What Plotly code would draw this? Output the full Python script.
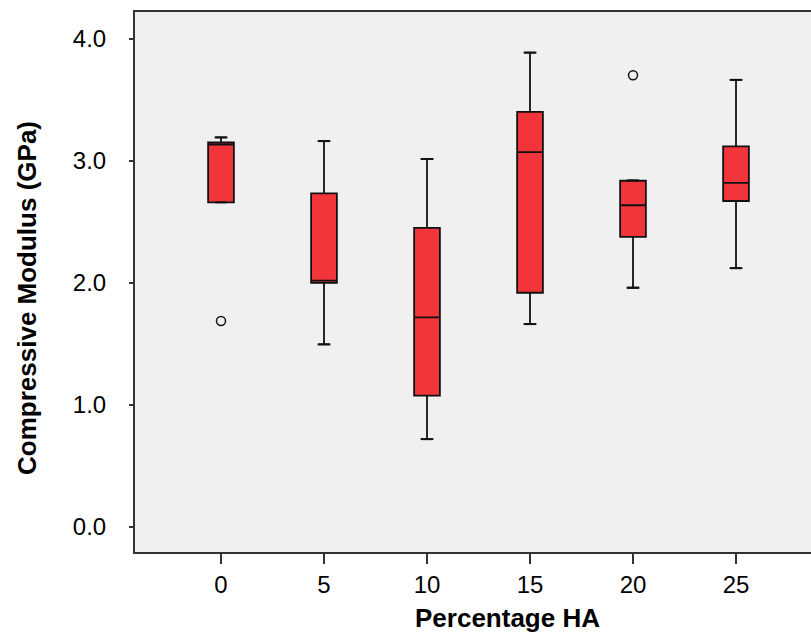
import plotly.graph_objects as go

categories = ["0", "5", "10", "15", "20", "25"]
q1 = [2.661, 2.001, 1.077, 1.920, 2.378, 2.672]
median = [3.135, 2.020, 1.718, 3.073, 2.637, 2.820]
q3 = [3.152, 2.735, 2.452, 3.403, 2.838, 3.119]
lower_whisker = [2.661, 1.497, 0.720, 1.663, 1.961, 2.121]
upper_whisker = [3.193, 3.163, 3.016, 3.888, 2.840, 3.665]
outlier_x = ["0", "20"]
outlier_y = [1.688, 3.703]
y_ticks = [0, 1, 2, 3, 4]
y_tick_labels = ["0.0", "1.0", "2.0", "3.0", "4.0"]
x_title = "Percentage HA"
y_title = "Compressive Modulus (GPa)"

FILL = "#F2353B"
LINE = "#111111"
FONT = "Liberation Sans, Arial, sans-serif"

fig = go.Figure()
fig.add_trace(go.Box(
    x=categories, q1=q1, median=median, q3=q3,
    lowerfence=lower_whisker, upperfence=upper_whisker,
    width=0.25, fillcolor=FILL, line=dict(color=LINE, width=1.8),
    boxpoints=False, showlegend=False, hoverinfo="skip",
))
# whisker caps
fig.add_trace(go.Scatter(
    x=categories + categories, y=lower_whisker + upper_whisker,
    mode="markers",
    marker=dict(symbol="line-ew", size=8, line=dict(color=LINE, width=2)),
    showlegend=False, hoverinfo="skip",
))
# outliers
fig.add_trace(go.Scatter(
    x=outlier_x, y=outlier_y, mode="markers",
    marker=dict(symbol="circle-open", size=9, color=LINE, line=dict(color=LINE, width=1.5)),
    showlegend=False, hoverinfo="skip",
))

fig.update_layout(
    width=811, height=633,
    margin=dict(l=135, r=0, t=12, b=81),
    paper_bgcolor="white", plot_bgcolor="#F0F0F0",
    font=dict(family=FONT, size=24, color="black"),
    annotations=[
        dict(text="<b>" + x_title + "</b>", xref="paper", yref="paper",
             x=0.5503, y=-0.1231, xanchor="center", yanchor="middle",
             showarrow=False, font=dict(size=26, color="black")),
        dict(text="<b>" + y_title + "</b>", xref="paper", yref="paper",
             x=-0.1598, y=0.4704, xanchor="center", yanchor="middle",
             textangle=-90, showarrow=False, font=dict(size=26, color="black")),
    ],
)
fig.update_xaxes(
    type="category", categoryorder="array", categoryarray=categories,
    range=[-0.835, 5.728],
    showline=True, mirror=True, linecolor="#333333", linewidth=2,
    ticks="outside", ticklen=10, tickwidth=1.5, tickcolor="#333333",
    showgrid=False, zeroline=False,
    tickfont=dict(size=24),
)
fig.update_yaxes(
    range=[-0.205, 4.221],
    tickvals=y_ticks, ticktext=y_tick_labels,
    showline=True, mirror=False, linecolor="#333333", linewidth=2,
    ticks="outside", ticklen=4, tickwidth=1.5, tickcolor="#333333",
    showgrid=False, zeroline=False,
    tickfont=dict(size=24), ticklabelstandoff=18,
)

fig.write_html("out.html")
